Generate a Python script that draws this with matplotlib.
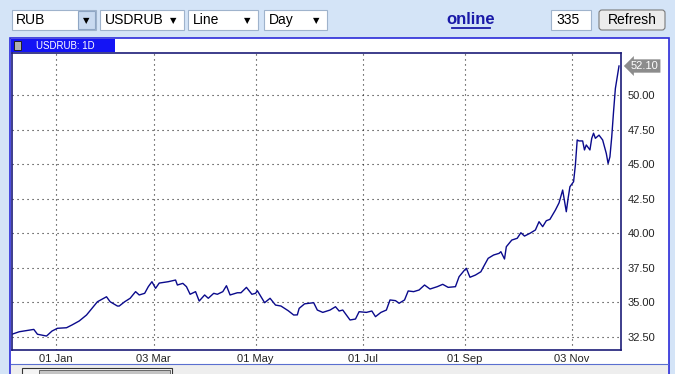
import matplotlib
matplotlib.use("Agg")
import matplotlib.pyplot as plt
import matplotlib.transforms as mtransforms
from matplotlib.patches import Rectangle, FancyBboxPatch

plt.rcParams['font.family'] = ['Liberation Sans', 'DejaVu Sans']

# bar number (trading day) and USDRUB close
bars = [0, 4, 12, 14, 19, 22, 25, 30, 33, 37, 41, 44, 47, 52, 54, 58, 59, 62, 65,
        68, 70, 73, 75, 77, 79, 81, 86, 90, 91, 94, 96, 98, 101, 103, 106, 108,
        111, 113, 116, 118, 120, 124, 126, 129, 132, 134, 135, 139, 142, 145,
        148, 152, 155, 157, 158, 161, 166, 168, 171, 175, 178, 180, 182, 186,
        189, 191, 195, 198, 200, 203, 206, 208, 211, 213, 216, 218, 221, 224,
        227, 230, 234, 237, 240, 244, 246, 249, 250, 252, 255, 258, 259, 262,
        265, 268, 269, 271, 272, 275, 278, 280, 282, 285, 288, 290, 292, 294,
        296, 299, 301, 303, 305, 306, 307, 309, 310, 311, 312, 314, 315, 316,
        318, 319, 320, 321, 323, 325, 327, 328, 329, 330, 331, 332, 333, 334]
close = [32.70, 32.88, 33.05, 32.70, 32.57, 32.93, 33.13, 33.17, 33.37, 33.66,
         34.09, 34.57, 35.05, 35.41, 35.05, 34.74, 34.74, 35.05, 35.30, 35.78,
         35.54, 35.66, 36.14, 36.50, 36.02, 36.40, 36.50, 36.62, 36.26, 36.38,
         36.14, 35.59, 35.78, 35.10, 35.54, 35.30, 35.66, 35.59, 35.78, 36.21,
         35.54, 35.70, 35.70, 36.09, 35.59, 35.66, 35.85, 34.98, 35.30, 34.81,
         34.74, 34.40, 34.09, 34.10, 34.57, 34.90, 34.98, 34.45, 34.28, 34.45,
         34.69, 34.38, 34.45, 33.73, 33.80, 34.33, 34.28, 34.38, 33.97, 34.28,
         34.45, 35.18, 35.13, 34.94, 35.18, 35.83, 35.78, 35.90, 36.26, 35.97,
         36.14, 36.31, 36.09, 36.14, 36.86, 37.34, 37.47, 36.82, 36.98, 37.22,
         37.47, 38.19, 38.43, 38.55, 38.67, 38.14, 39.03, 39.51, 39.64, 40.04,
         39.80, 40.00, 40.24, 40.84, 40.48, 40.91, 41.01, 41.68, 42.20, 43.13,
         41.56, 42.53, 43.37, 43.73, 44.94, 46.75, 46.68, 46.68, 46.03, 46.39,
         46.03, 46.87, 47.24, 46.87, 47.10, 46.75, 45.78, 45.05, 45.53, 46.97,
         48.80, 50.47, 51.30, 52.10]

tick_bars = [24, 78, 134, 193, 249, 308]
tick_labels = ["01 Jan", "03 Mar", "01 May", "01 Jul", "01 Sep", "03 Nov"]
y_ticks = [32.5, 35.0, 37.5, 40.0, 42.5, 45.0, 47.5, 50.0]
last_price = 52.10

W, H = 675, 374
fig = plt.figure(figsize=(W / 100, H / 100), dpi=100)
fig.patch.set_facecolor('#d4e4f7')

# pixel-space layer for the toolbar and the panel frame
ui = fig.add_axes([0, 0, 1, 1])
ui.set_xlim(0, W)
ui.set_ylim(H, 0)
ui.axis('off')

def box(x0, x1, y0, y1, fc='white', ec='#9fb3cc', lw=0.8, z=1):
    ui.add_patch(Rectangle((x0, y0), x1 - x0, y1 - y0, fc=fc, ec=ec, lw=lw, zorder=z))

# toolbar
box(12, 96, 10, 30)
box(78, 95, 11, 29, fc='#c9daf0', ec='#8fa6c4')
ui.text(86.5, 20.5, "\u25BC", fontsize=6, ha='center', va='center', family='DejaVu Sans')
ui.text(16, 20, "RUB", fontsize=10, va='center')
for x0, x1, label in [(100, 184, "USDRUB"), (188, 258, "Line"), (264, 327, "Day")]:
    box(x0, x1, 10, 30)
    ui.text(x0 + 5, 20, label, fontsize=10, va='center')
    ui.text(x1 - 11, 20.5, "\u25BC", fontsize=6, ha='center', va='center', family='DejaVu Sans')
ui.text(471, 19, "online", fontsize=12, fontweight='bold', color='#1a1aa8',
        ha='center', va='center')
ui.plot([452, 490], [28, 28], color='#1a1aa8', lw=1.3)
box(551, 591, 10, 30)
ui.text(556, 20, "335", fontsize=10, va='center')
ui.add_patch(FancyBboxPatch((599, 10), 66, 20, boxstyle='round,pad=0,rounding_size=3',
                            fc='#ececec', ec='#7a7a7a', lw=0.8))
ui.text(632, 20, "Refresh", fontsize=10, ha='center', va='center')

# chart panel
box(10, 669, 38, 376, fc='white', ec='#2b2bd8', lw=1.2)
box(11, 668, 364, 376, fc='#eeeeee', ec='none')
ui.plot([11, 668], [364, 364], color='#5a6fd0', lw=0.8)
box(22, 172, 368, 378, fc='#f4f4f4', ec='#333333', lw=0.8)
box(39, 170, 370, 378, fc='#c4c4c4', ec='#555555', lw=0.6)
box(11, 115, 39, 52, fc='#1414f5', ec='none')
box(14, 21, 41, 50, fc='#b0b0b0', ec='#222222', lw=0.7)
ui.text(36, 45.5, "USDRUB: 1D", fontsize=7, color='white', va='center')

# price chart
ax = fig.add_axes([12 / W, (H - 350) / H, (621 - 12) / W, (350 - 53) / H])
ax.plot(bars, close, color='#0a0a8c', lw=1)
ax.set_xlim(0, 335.1)
ax.set_ylim(31.56, 53.04)
ax.yaxis.tick_right()
ax.set_yticks(y_ticks)
ax.set_yticklabels([f"{v:.2f}" for v in y_ticks])
ax.set_xticks(tick_bars)
ax.set_xticklabels(tick_labels)
ax.tick_params(axis='y', length=0, labelsize=8, colors='#222222', pad=5)
ax.tick_params(axis='x', length=0, labelsize=8, colors='#222222', pad=3)
ax.grid(True, color='#222222', linestyle=(0, (1, 3.5)), lw=0.8)
for s in ax.spines.values():
    s.set_color('#1c1c78')
    s.set_linewidth(1.2)

trans = mtransforms.blended_transform_factory(ax.transAxes, ax.transData)
ax.text(1.0 + 10 / 609, last_price, f"{last_price:.2f}", transform=trans,
        fontsize=8, color='white', va='center', ha='left', clip_on=False,
        bbox=dict(boxstyle='larrow,pad=0.15', fc='#8c8c8c', ec='none'))

fig.savefig("out.png", dpi=100, facecolor=fig.get_facecolor())
